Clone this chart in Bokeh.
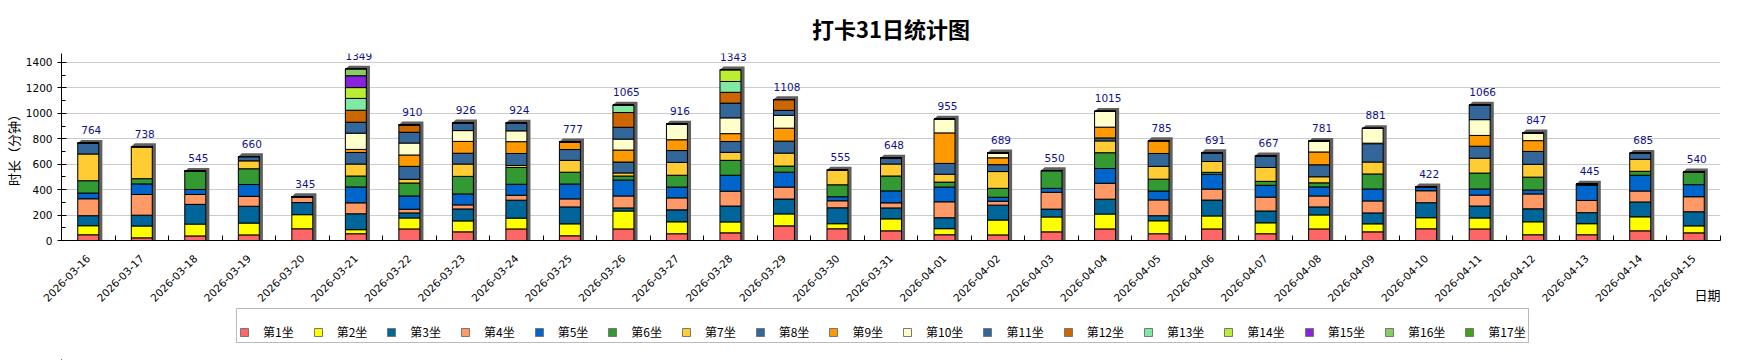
import math
from bokeh.plotting import figure
from bokeh.layouts import column
from bokeh.models import (ColumnDataSource, Range1d, FixedTicker, SingleIntervalTicker,
                          LabelSet, Legend, LegendItem, Title)
from bokeh.core.properties import value
from bokeh.embed import file_html
from bokeh.resources import INLINE

# ---------------- data ----------------
dates = ["2026-03-16", "2026-03-17", "2026-03-18", "2026-03-19", "2026-03-20",
         "2026-03-21", "2026-03-22", "2026-03-23", "2026-03-24", "2026-03-25",
         "2026-03-26", "2026-03-27", "2026-03-28", "2026-03-29", "2026-03-30",
         "2026-03-31", "2026-04-01", "2026-04-02", "2026-04-03", "2026-04-04",
         "2026-04-05", "2026-04-06", "2026-04-07", "2026-04-08", "2026-04-09",
         "2026-04-10", "2026-04-11", "2026-04-12", "2026-04-13", "2026-04-14",
         "2026-04-15"]

totals = [764, 738, 545, 660, 345, 1349, 910, 926, 924, 777, 1065, 916, 1343, 1108, 555,
          648, 955, 689, 550, 1015, 785, 691, 667, 781, 881, 422, 1066, 847, 445, 685, 540]

s1 = [45, 21, 36, 44, 92, 53, 91, 68, 91, 37, 91, 53, 60, 115, 92, 76, 45, 44, 68, 91, 53, 91, 53, 91, 68, 92, 91, 45, 45, 76, 60]
s2 = [71, 93, 93, 93, 111, 32, 86, 86, 85, 94, 141, 94, 86, 94, 40, 94, 48, 117, 117, 117, 102, 102, 86, 110, 63, 87, 86, 102, 87, 110, 55]
s3 = [79, 85, 155, 132, 95, 125, 40, 94, 141, 133, 24, 94, 125, 117, 125, 86, 86, 117, 62, 117, 40, 125, 93, 63, 86, 118, 94, 102, 87, 117, 111]
s4 = [133, 163, 78, 78, 47, 86, 29, 32, 39, 63, 94, 94, 117, 94, 55, 40, 125, 31, 132, 125, 124, 86, 109, 86, 94, 94, 86, 117, 96, 86, 118]
s5 = [45, 83, 39, 93, 0, 125, 104, 86, 86, 117, 125, 85, 125, 117, 32, 94, 116, 31, 31, 116, 70, 116, 93, 71, 94, 31, 48, 31, 119, 124, 95]
s6 = [97, 41, 144, 124, 0, 86, 102, 138, 132, 93, 32, 93, 117, 48, 94, 117, 39, 70, 140, 124, 93, 16, 31, 32, 118, 0, 125, 101, 11, 31, 101]
s7 = [210, 252, 0, 62, 0, 94, 29, 97, 16, 93, 24, 101, 63, 102, 117, 94, 62, 132, 0, 93, 101, 85, 109, 48, 94, 0, 117, 101, 0, 94, 0]
s8 = [84, 0, 0, 34, 0, 91, 102, 85, 94, 85, 86, 93, 85, 94, 0, 47, 85, 54, 0, 23, 101, 70, 93, 94, 144, 0, 94, 101, 0, 47, 0]
s9 = [0, 0, 0, 0, 0, 24, 89, 93, 93, 62, 94, 85, 62, 102, 0, 0, 240, 54, 0, 85, 101, 0, 0, 101, 4, 0, 85, 85, 0, 0, 0]
s10 = [0, 0, 0, 0, 0, 128, 94, 85, 85, 0, 86, 124, 124, 101, 0, 0, 109, 39, 0, 124, 0, 0, 0, 85, 116, 0, 124, 62, 0, 0, 0]
s11 = [0, 0, 0, 0, 0, 86, 85, 62, 62, 0, 93, 0, 116, 39, 0, 0, 0, 0, 0, 0, 0, 0, 0, 0, 0, 0, 116, 0, 0, 0, 0]
s12 = [0, 0, 0, 0, 0, 94, 59, 0, 0, 0, 116, 0, 85, 85, 0, 0, 0, 0, 0, 0, 0, 0, 0, 0, 0, 0, 0, 0, 0, 0, 0]
s13 = [0, 0, 0, 0, 0, 93, 0, 0, 0, 0, 59, 0, 85, 0, 0, 0, 0, 0, 0, 0, 0, 0, 0, 0, 0, 0, 0, 0, 0, 0, 0]
s14 = [0, 0, 0, 0, 0, 85, 0, 0, 0, 0, 0, 0, 93, 0, 0, 0, 0, 0, 0, 0, 0, 0, 0, 0, 0, 0, 0, 0, 0, 0, 0]
s15 = [0, 0, 0, 0, 0, 93, 0, 0, 0, 0, 0, 0, 0, 0, 0, 0, 0, 0, 0, 0, 0, 0, 0, 0, 0, 0, 0, 0, 0, 0, 0]
s16 = [0, 0, 0, 0, 0, 54, 0, 0, 0, 0, 0, 0, 0, 0, 0, 0, 0, 0, 0, 0, 0, 0, 0, 0, 0, 0, 0, 0, 0, 0, 0]
s17 = [0] * 31

series = [s1, s2, s3, s4, s5, s6, s7, s8, s9, s10, s11, s12, s13, s14, s15, s16, s17]
series_names = ["第%d坐" % (i + 1) for i in range(17)]
colors = ["#FF6666", "#FFFF00", "#006699", "#FF9966", "#0066CC", "#339933",
          "#FFCC33", "#336699", "#FF9900", "#FFFFCC", "#336699", "#CC6600",
          "#80E8A0", "#BBEE33", "#8822DD", "#88CC66", "#44A01C"]

title_text = "打卡31日统计图"
y_label = "时长（分钟）"
x_label = "日期"

# ---------------- layout constants ----------------
W = 1750
H1, H2 = 308, 52
BL, BR, BT, BB = 60, 30, 51, 68
N = len(dates)
Y_END = 1470
FRAME_W = W - BL - BR
FRAME_H = H1 - BT - BB
PX_X = FRAME_W / N          # pixels per category
PX_Y = FRAME_H / Y_END      # pixels per minute
BAR_W = 21 / PX_X
DX = 3.6 / PX_X
DY = 3.3 / PX_Y
CJK = "Noto Sans CJK SC"

xs = [i + 0.5 for i in range(N)]
keys = ["s%d" % (i + 1) for i in range(17)]
stack_tops = [sum(s[i] for s in series) for i in range(N)]

p = figure(width=W, height=H1, x_range=Range1d(0, N), y_range=Range1d(0, Y_END),
           output_backend="svg", toolbar_location=None,
           min_border_left=BL, min_border_right=BR, min_border_top=BT, min_border_bottom=BB)
p.outline_line_color = None
p.background_fill_color = "white"
p.border_fill_color = "white"

# title
p.title.text = title_text
p.title.align = "center"
p.title.text_font = CJK
p.title.text_font_size = "22px"
p.title.text_font_style = "bold"
p.title.text_color = "black"
p.title.standoff = 19

# shadows
sh_xs = [[c - BAR_W / 2, c - BAR_W / 2 + DX, c + BAR_W / 2 + DX, c + BAR_W / 2 + DX, c - BAR_W / 2]
         for c in xs]
sh_ys = [[t, t + DY, t + DY, 0, 0] for t in stack_tops]
p.patches(sh_xs, sh_ys, fill_color="#606060", line_color=None)

# stacked bars
data = {"x": xs}
for k, s in zip(keys, series):
    data[k] = s
src = ColumnDataSource(data)
rends = p.vbar_stack(keys, x="x", width=BAR_W, source=src,
                     fill_color=colors, line_color="black", line_width=1)

# totals labels
lsrc = ColumnDataSource(dict(x=xs, y=stack_tops, t=[str(v) for v in totals]))
p.add_layout(LabelSet(x="x", y="y", text="t", source=lsrc, x_offset=3, y_offset=9,
                      text_align="center", text_baseline="alphabetic",
                      text_font=value("DejaVu Sans"), text_font_size="10.5px",
                      text_color="#10108a"))

# axes
p.xgrid.visible = False
p.ygrid.grid_line_color = "#cccccc"
p.ygrid.grid_line_width = 1

xax = p.xaxis[0]
xax.ticker = FixedTicker(ticks=xs, minor_ticks=list(range(N + 1)))
overrides = {}
for x, d in zip(xs, dates):
    overrides[x] = d
    overrides[str(x)] = d
xax.major_label_overrides = overrides
xax.major_label_orientation = math.pi / 4
xax.major_tick_in = 0
xax.major_tick_out = 0
xax.minor_tick_in = 5
xax.minor_tick_out = 0
xax.minor_tick_line_color = "black"
xax.axis_line_color = "black"
xax.major_label_standoff = 16
xax.major_label_text_font = "DejaVu Sans"
xax.major_label_text_font_size = "10.5px"
xax.major_label_text_color = "black"

use_align = "axis_label_align" in xax.properties()
if use_align:
    # label is centred on the axis end; two ideographic spaces push the visible text left of it
    xax.axis_label = x_label + "\u3000\u3000"
    xax.axis_label_align = "end"
    xax.axis_label_standoff = -23
    xax.axis_label_text_font = CJK
    xax.axis_label_text_font_size = "13px"
    xax.axis_label_text_font_style = "normal"
    xax.axis_label_text_color = "black"

yax = p.yaxis[0]
yax.ticker = SingleIntervalTicker(interval=200, num_minor_ticks=2)
yax.major_tick_in = 5
yax.major_tick_out = 4
yax.minor_tick_in = 4
yax.minor_tick_out = 0
yax.axis_line_color = "black"
yax.major_tick_line_color = "black"
yax.minor_tick_line_color = "black"
yax.major_label_standoff = 5
yax.major_label_text_font = "DejaVu Sans"
yax.major_label_text_font_size = "10.5px"
yax.major_label_text_color = "black"
yax.axis_label = y_label
yax.axis_label_standoff = 0
yax.axis_label_text_font = CJK
yax.axis_label_text_font_size = "13px"
yax.axis_label_text_font_style = "normal"
yax.axis_label_text_color = "black"

if not use_align:
    t2 = Title(text=x_label, align="right", text_font=CJK, text_font_size="13px",
               text_font_style="normal", text_color="black", standoff=0)
    p.add_layout(t2, "below")

# ---------------- legend strip (separate canvas below the chart) ----------------
q = figure(width=W, height=H2, x_range=Range1d(0, W), y_range=Range1d(0, H2),
           output_backend="svg", toolbar_location=None, x_axis_type=None, y_axis_type=None,
           min_border_left=0, min_border_right=0, min_border_top=0, min_border_bottom=0)
q.outline_line_color = None
q.grid.visible = False
q.background_fill_color = "white"
q.border_fill_color = "white"
# legend proxies (kept outside the visible range; only their swatches are shown)
swatches = [q.vbar(x=[-10000], top=[1], width=1, fill_color=c, line_color="#777777")
            for c in colors]

legend = Legend(items=[LegendItem(label=n, renderers=[r]) for n, r in zip(series_names, swatches)],
                orientation="horizontal", location=(175, 17),
                glyph_width=10, glyph_height=10, label_standoff=14, spacing=19,
                padding=2, margin=0, label_height=10, label_width=10,
                label_text_font=CJK, label_text_font_size="12px",
                label_text_color="black",
                border_line_color="#777777", border_line_width=1,
                background_fill_color="white", background_fill_alpha=1.0,
                title=" ", title_text_font_size="8px", title_standoff=3)
q.add_layout(legend)

layout = column(p, q, spacing=0)
open("out.html", "w").write(file_html(layout, INLINE))
